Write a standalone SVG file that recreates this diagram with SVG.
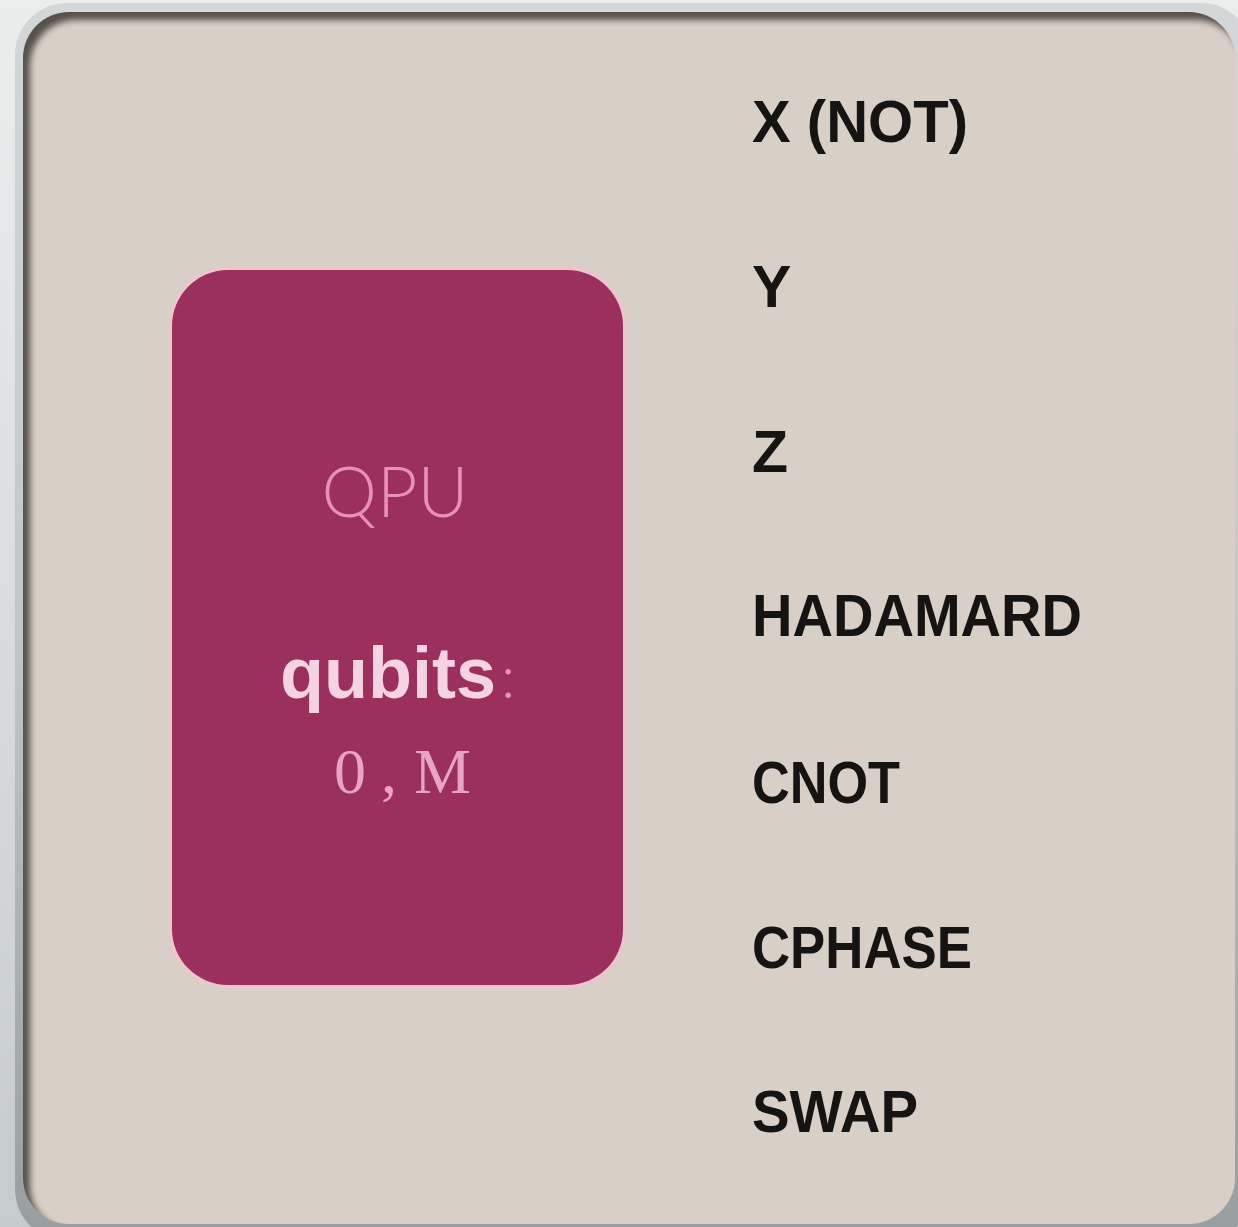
<svg xmlns="http://www.w3.org/2000/svg" width="1238" height="1227" viewBox="0 0 1238 1227">
  <defs>
    <linearGradient id="bg" x1="0" y1="0" x2="0" y2="1">
      <stop offset="0" stop-color="#eceeee"/>
      <stop offset="1" stop-color="#c6cbce"/>
    </linearGradient>
    <linearGradient id="frame" x1="0" y1="0" x2="0" y2="1">
      <stop offset="0" stop-color="#d3d7d8"/>
      <stop offset="0.5" stop-color="#c2c7c9"/>
      <stop offset="1" stop-color="#989da0"/>
    </linearGradient>
    <clipPath id="panelClip">
      <rect x="23" y="12" width="1212" height="1212" rx="46" ry="46"/>
    </clipPath>
    <filter id="blur6" x="-10%" y="-10%" width="120%" height="120%">
      <feGaussianBlur stdDeviation="3"/>
    </filter>
    <filter id="glow" x="-10%" y="-10%" width="120%" height="120%">
      <feGaussianBlur stdDeviation="1.5"/>
    </filter>
    <style>
      .gate { font-family: "Liberation Sans", Arial, sans-serif; font-weight: 700; font-size: 59px; fill: #161412; }
      .qpu { font-family: Lato, Roboto, "Open Sans", sans-serif; font-weight: 300; font-size: 70px; fill: #e690ba; }
      .qubits { font-family: "Liberation Sans", Arial, sans-serif; font-weight: 700; font-size: 72px; fill: #f6d3e2; }
      .colon { font-family: Lato, Roboto, sans-serif; font-weight: 300; font-size: 60px; fill: #e690ba; }
      .mono { font-family: "Liberation Serif", "Times New Roman", serif; font-size: 64px; fill: #e9a3c4; }
    </style>
  </defs>

  <!-- background -->
  <rect x="0" y="0" width="1238" height="1227" fill="url(#bg)"/>
  <!-- frame -->
  <rect x="15" y="3" width="1238" height="1238" rx="52" ry="52" fill="url(#frame)"/>
  <!-- panel -->
  <g id="panel">
    <rect x="23" y="12" width="1212" height="1212" rx="46" ry="46" fill="#d8cfc6"/>
    <g clip-path="url(#panelClip)">
      <path fill="#3f3a36" fill-rule="evenodd" filter="url(#blur6)" opacity="0.85"
        d="M-100,-100 H1400 V1400 H-100 Z M76,20 H1196 A46,46 0 0 1 1242,66 V1186 A46,46 0 0 1 1196,1232 H76 A46,46 0 0 1 30,1186 V66 A46,46 0 0 1 76,20 Z"/>
    </g>
  </g>

  <!-- QPU node -->
  <g id="qpu">
    <rect x="172" y="270" width="451" height="715" rx="56" ry="56" fill="none" stroke="#f4c3cf" stroke-width="5" filter="url(#glow)"/>
    <rect x="172" y="270" width="451" height="715" rx="56" ry="56" fill="#9b2f5e"/>
    <text class="qpu" x="395" y="517" text-anchor="middle">QPU</text>
    <text class="qubits" x="280" y="698">qubits</text>
    <text class="colon" x="501" y="698">:</text>
    <text class="mono" x="334 381 414" y="793">0,M</text>
  </g>

  <!-- gate labels -->
  <g id="gate-x"><text class="gate" x="752" y="142" textLength="216" lengthAdjust="spacingAndGlyphs">X (NOT)</text></g>
  <g id="gate-y"><text class="gate" x="752" y="307">Y</text></g>
  <g id="gate-z"><text class="gate" x="752" y="472">Z</text></g>
  <g id="gate-h"><text class="gate" x="752" y="636" textLength="330" lengthAdjust="spacingAndGlyphs">HADAMARD</text></g>
  <g id="gate-cnot"><text class="gate" x="752" y="803" textLength="148" lengthAdjust="spacingAndGlyphs">CNOT</text></g>
  <g id="gate-cphase"><text class="gate" x="752" y="968" textLength="220" lengthAdjust="spacingAndGlyphs">CPHASE</text></g>
  <g id="gate-swap"><text class="gate" x="752" y="1132" textLength="166" lengthAdjust="spacingAndGlyphs">SWAP</text></g>

  <g id="connectors"></g>
</svg>
